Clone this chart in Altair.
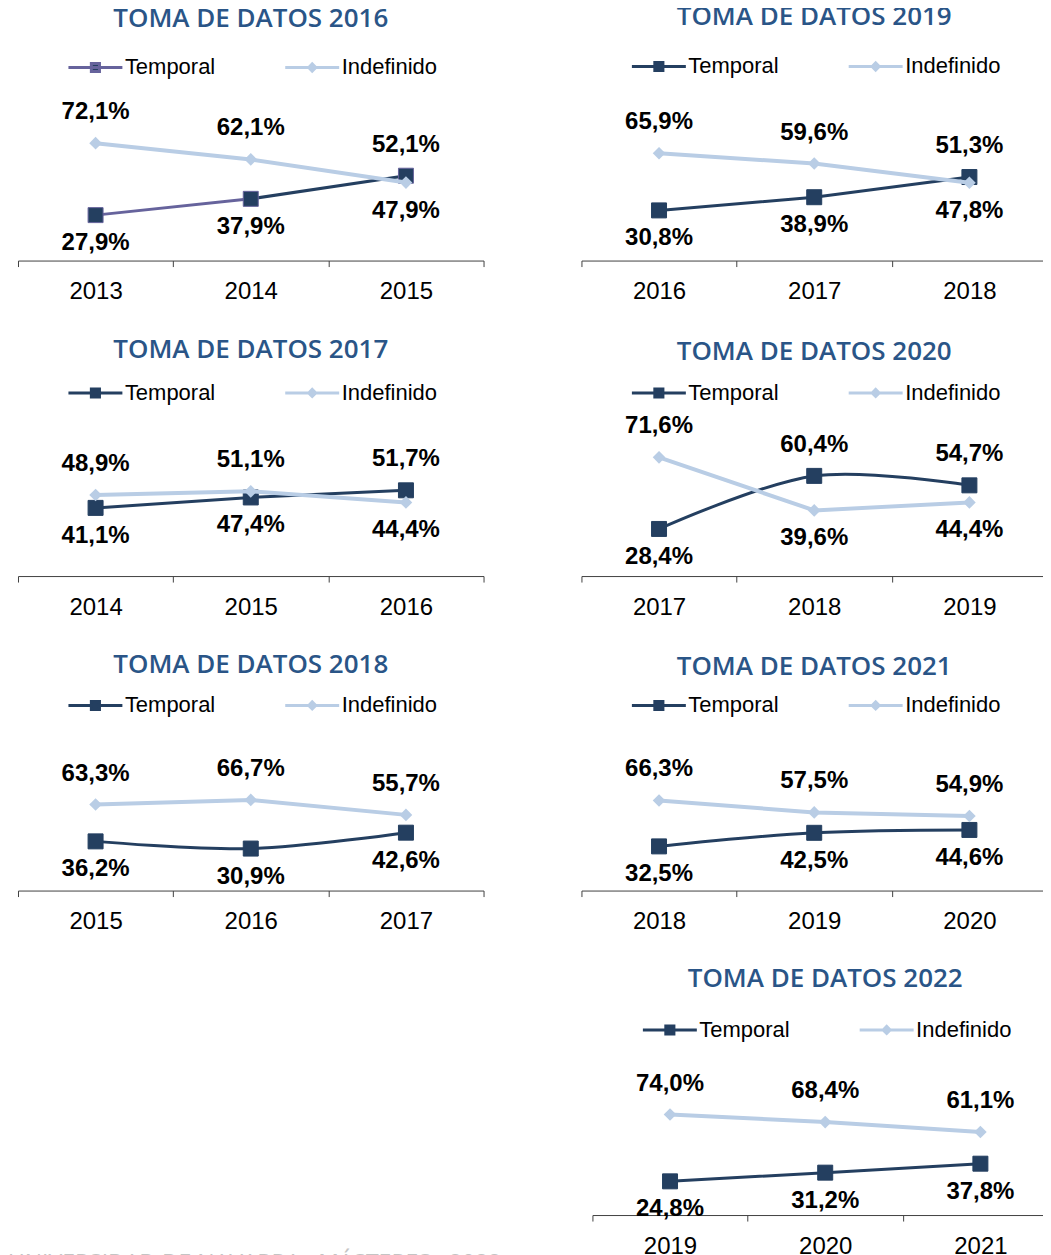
import altair as alt
import pandas as pd

# ---------------- data ----------------
SERIES = ["Temporal", "Indefinido"]

title_2016 = "TOMA DE DATOS 2016"
years_2016 = ["2013", "2014", "2015"]
temporal_2016 = [27.9, 37.9, 52.1]
indefinido_2016 = [72.1, 62.1, 47.9]

title_2017 = "TOMA DE DATOS 2017"
years_2017 = ["2014", "2015", "2016"]
temporal_2017 = [41.1, 47.4, 51.7]
indefinido_2017 = [48.9, 51.1, 44.4]

title_2018 = "TOMA DE DATOS 2018"
years_2018 = ["2015", "2016", "2017"]
temporal_2018 = [36.2, 30.9, 42.6]
indefinido_2018 = [63.3, 66.7, 55.7]

title_2019 = "TOMA DE DATOS 2019"
years_2019 = ["2016", "2017", "2018"]
temporal_2019 = [30.8, 38.9, 51.3]
indefinido_2019 = [65.9, 59.6, 47.8]

title_2020 = "TOMA DE DATOS 2020"
years_2020 = ["2017", "2018", "2019"]
temporal_2020 = [28.4, 60.4, 54.7]
indefinido_2020 = [71.6, 39.6, 44.4]

title_2021 = "TOMA DE DATOS 2021"
years_2021 = ["2018", "2019", "2020"]
temporal_2021 = [32.5, 42.5, 44.6]
indefinido_2021 = [66.3, 57.5, 54.9]

title_2022 = "TOMA DE DATOS 2022"
years_2022 = ["2019", "2020", "2021"]
temporal_2022 = [24.8, 31.2, 37.8]
indefinido_2022 = [74.0, 68.4, 61.1]

footer_text = "UNIVERSIDAD DE NAVARRA · MÁSTERES · 2022"

# ---------------- styles ----------------
NAVY = "#243F60"
LIGHT = "#B9CDE5"
PURPLE = "#66639C"
TITLE_BLUE = "#2A5587"
AXIS_COL = "#404040"
FONT = "Liberation Sans"

SQ_PATH = "M-1,0L1,0M-0.15,-0.15L0.15,-0.15L0.15,0.15L-0.15,0.15Z"
DIA_PATH = "M-1,0L1,0M-0.13,0L0,-0.13L0.13,0L0,0.13Z"


def panel(title, years, temporal, indefinido, height, legend_y, title_offset,
          smooth=False, temporal_seg_colors=None, temporal_edge=NAVY,
          legend_temporal_stroke=NAVY, width=466):
    rows = []
    for s, vals in (("Temporal", temporal), ("Indefinido", indefinido)):
        for yr, v in zip(years, vals):
            rows.append({"anio": yr, "serie": s, "valor": v})
    df = pd.DataFrame(rows)
    top = df.groupby("anio")["valor"].transform("max")
    df["pos"] = ["arriba" if v == t else "abajo" for v, t in zip(df["valor"], top)]
    df["etiqueta"] = [f"{v:.1f}".replace(".", ",") + "%" for v in df["valor"]]

    x = alt.X("anio:N", sort=years,
              scale=alt.Scale(type="band", paddingInner=0, paddingOuter=0),
              axis=alt.Axis(title=None, labelAngle=0, tickBand="extent", grid=False,
                            domainColor=AXIS_COL, tickColor=AXIS_COL, tickSize=6,
                            domainWidth=1, tickWidth=1,
                            labelFont=FONT, labelFontSize=24, labelColor="black",
                            labelPadding=13))
    y = alt.Y("valor:Q", scale=alt.Scale(domain=[0, 100], nice=False), axis=None)
    t_interp = "catmull-rom" if smooth else "linear"
    base = alt.Chart(df)

    layers = []
    if temporal_seg_colors:
        seg_rows = []
        for i, c in enumerate(temporal_seg_colors):
            for j in (i, i + 1):
                seg_rows.append({"anio": years[j], "valor": temporal[j], "tramo": i, "col": c})
        layers.append(
            alt.Chart(pd.DataFrame(seg_rows)).mark_line(strokeWidth=3, interpolate=t_interp)
            .encode(x=x, y=y, detail="tramo:N", color=alt.Color("col:N", scale=None))
        )
    else:
        layers.append(
            base.transform_filter("datum.serie == 'Temporal'")
            .mark_line(color=NAVY, strokeWidth=3, interpolate=t_interp).encode(x=x, y=y)
        )
    layers.append(
        base.transform_filter("datum.serie == 'Temporal'")
        .mark_point(shape="square", filled=True, size=225, fill=NAVY, stroke=temporal_edge,
                    strokeWidth=1, opacity=1).encode(x=x, y=y)
    )
    layers.append(
        base.transform_filter("datum.serie == 'Indefinido'")
        .mark_line(color=LIGHT, strokeWidth=4).encode(x=x, y=y)
    )
    layers.append(
        base.transform_filter("datum.serie == 'Indefinido'")
        .mark_point(shape="diamond", filled=True, size=160, fill=LIGHT, opacity=1).encode(x=x, y=y)
    )
    text_style = dict(font=FONT, fontSize=24, fontWeight="bold", color="black", baseline="middle")
    layers.append(
        base.transform_filter("datum.pos == 'arriba'").mark_text(dy=-31, **text_style)
        .encode(x=x, y=y, text="etiqueta:N")
    )
    layers.append(
        base.transform_filter("datum.pos == 'abajo'").mark_text(dy=28, **text_style)
        .encode(x=x, y=y, text="etiqueta:N")
    )
    leg = alt.Legend(orient="none", legendX=49, legendY=legend_y, direction="horizontal",
                     columns=2, title=None, symbolSize=2916, symbolStrokeWidth=3,
                     labelFont=FONT, labelFontSize=22, labelColor="black", labelOffset=1,
                     columnPadding=63, padding=0, symbolOpacity=1)
    layers.append(
        base.transform_filter("false").mark_point(filled=True, strokeWidth=3, opacity=1)
        .encode(
            fill=alt.Fill("serie:N", scale=alt.Scale(domain=SERIES, range=[NAVY, LIGHT]), legend=leg),
            stroke=alt.Stroke("serie:N", scale=alt.Scale(domain=SERIES, range=[legend_temporal_stroke, LIGHT]), legend=leg),
            shape=alt.Shape("serie:N", scale=alt.Scale(domain=SERIES, range=[SQ_PATH, DIA_PATH]), legend=leg),
        )
    )
    return alt.layer(*layers).properties(
        width=width, height=height,
        title=alt.TitleParams(title, font="Open Sans", fontSize=26, fontWeight=600,
                              color=TITLE_BLUE, anchor="middle", offset=title_offset),
    )


p2016 = panel(title_2016, years_2016, temporal_2016, indefinido_2016, 163, -59, 6.5,
              temporal_seg_colors=[PURPLE, NAVY], temporal_edge=PURPLE,
              legend_temporal_stroke=PURPLE)
p2019 = panel(title_2019, years_2019, temporal_2019, indefinido_2019, 163, -60, 7.5)
p2017 = panel(title_2017, years_2017, temporal_2017, indefinido_2017, 166, -46, 1.5)
p2020 = panel(title_2020, years_2020, temporal_2020, indefinido_2020, 166, -46, -0.5, smooth=True)
p2018 = panel(title_2018, years_2018, temporal_2018, indefinido_2018, 136, -78, -1, smooth=True)
p2021 = panel(title_2021, years_2021, temporal_2021, indefinido_2021, 136, -78, -3, smooth=True)
p2022 = panel(title_2022, years_2022, temporal_2022, indefinido_2022, 136, -78, 9)

footer = alt.Chart(pd.DataFrame({"t": []})).mark_point(opacity=0).properties(
    width=560, height=150,
    title=alt.TitleParams(footer_text, orient="bottom", anchor="start", font="Open Sans",
                          fontSize=23, fontWeight="normal", color="#C4C4C4", offset=24.5, dx=-10),
)

IND = dict(fill="independent", stroke="independent", shape="independent", color="independent")


def row(a, b, spacing):
    return alt.hconcat(a, b, spacing=spacing).resolve_scale(**IND).resolve_legend(
        fill="independent", stroke="independent", shape="independent")


chart = alt.vconcat(
    row(p2016, p2019, 96),
    row(p2017, p2020, 96),
    row(p2018, p2021, 96),
    row(footer, p2022, 14),
    spacing=32.8,
).resolve_scale(**IND).resolve_legend(
    fill="independent", stroke="independent", shape="independent"
).properties(
    padding={"left": 0, "top": -4.8, "right": -16, "bottom": 0}, background="white"
).configure_view(stroke=None)

chart.save("out.html", embed_options={"renderer": "svg", "actions": False})
